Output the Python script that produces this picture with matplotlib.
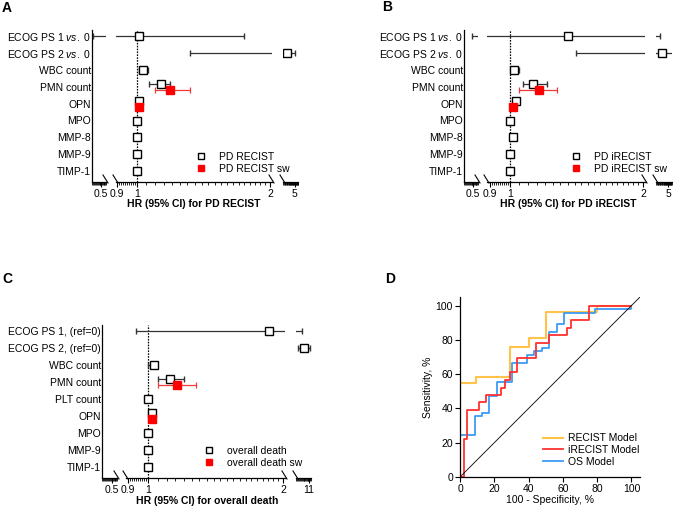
import numpy as np
import matplotlib
matplotlib.use("Agg")
import matplotlib.pyplot as plt
import matplotlib.ticker as mticker
from matplotlib.lines import Line2D

plt.rcParams['font.family'] = ['Liberation Sans', 'DejaVu Sans']
plt.rcParams['mathtext.fontset'] = 'custom'
plt.rcParams['mathtext.rm'] = 'Liberation Sans'
plt.rcParams['mathtext.it'] = 'Liberation Sans:italic'
plt.rcParams['font.size'] = 7.5

# ---------------- data ----------------
rows_a = [r'ECOG PS 1 $\it{vs.}$ 0', r'ECOG PS 2 $\it{vs.}$ 0', 'WBC count', 'PMN count',
          'OPN', 'MPO', 'MMP-8', 'MMP-9', 'TIMP-1']
hr_a = [1.01, 3.6, 1.03, 1.13, 1.01, 1.0, 1.0, 1.0, 1.0]
lo_a = [0.41, 1.32, 1.01, 1.065, 1.0, 0.995, 0.995, 0.995, 0.995]
hi_a = [1.75, 5.0, 1.06, 1.19, 1.02, 1.005, 1.005, 1.005, 1.005]
sw_rows_a = [3, 4]
sw_hr_a = [1.19, 1.01]
sw_lo_a = [1.10, 1.0]
sw_hi_a = [1.32, 1.02]

rows_b = rows_a
hr_b = [1.35, 3.8, 1.02, 1.13, 1.03, 1.0, 1.015, 1.0, 1.0]
lo_b = [0.48, 1.41, 1.01, 1.07, 1.02, 0.995, 1.01, 0.995, 0.995]
hi_b = [3.5, 7.0, 1.05, 1.21, 1.04, 1.005, 1.02, 1.005, 1.005]
sw_rows_b = [3, 4]
sw_hr_b = [1.16, 1.015]
sw_lo_b = [1.05, 1.005]
sw_hi_b = [1.28, 1.025]

rows_c = ['ECOG PS 1, (ref=0)', 'ECOG PS 2, (ref=0)', 'WBC count', 'PMN count',
          'PLT count', 'OPN', 'MPO', 'MMP-9', 'TIMP-1']
hr_c = [1.86, 9.6, 1.03, 1.12, 1.0, 1.02, 1.0, 1.0, 1.0]
lo_c = [0.94, 8.3, 1.0, 1.05, 0.995, 1.01, 0.995, 0.995, 0.995]
hi_c = [9.3, 11.1, 1.045, 1.2, 1.005, 1.03, 1.005, 1.005, 1.005]
sw_rows_c = [3, 5]
sw_hr_c = [1.16, 1.02]
sw_lo_c = [1.05, 1.01]
sw_hi_c = [1.28, 1.03]

# ROC curves (100 - specificity, sensitivity), step corners
recist_x = [0, 0, 9.4, 29.4, 40, 50, 80, 100]
recist_y = [0, 55, 58.5, 76, 81, 96.5, 100, 100]
irecist_x = [0, 2.2, 4.3, 10.8, 15.3, 24, 26.4, 29, 33.3, 44.6, 51.9, 62.2, 64.6, 75.3, 100]
irecist_y = [0, 22, 39, 43.5, 48, 52, 56.5, 61, 69.5, 78.3, 82.6, 87, 91.3, 100, 100]
os_x = [0, 0, 8.8, 12.7, 17.2, 21.5, 30.3, 39.3, 43.2, 48, 52, 56.4, 60.9, 78.9, 100, 100]
os_y = [0, 24.5, 35.5, 37.5, 47, 55.5, 66.7, 71, 73.3, 75.5, 84.5, 89, 95.5, 97.8, 100, 100]

W, H = 673, 507
fig = plt.figure(figsize=(W / 100, H / 100), dpi=100)


def px(x, y):
    return x / W, 1 - y / H


def add_ax(x0, y0, x1, y1):
    return fig.add_axes([x0 / W, 1 - y1 / H, (x1 - x0) / W, (y1 - y0) / H])


def slash(x, y):
    fig.add_artist(Line2D([(x - 3) / W, (x + 2) / W], [1 - (y - 7) / H, 1 - (y + 1) / H],
                          transform=fig.transFigure, color='black', lw=0.8))


def forest(segs, rows, hr, lo, hi, sw_rows, sw_hr, sw_lo, sw_hi,
           ytop, ybot, row0, step, xlabel, xlab_xy, leg_xy, leg_labels):
    n = len(rows)
    hr = np.array(hr); lo = np.array(lo); hi = np.array(hi)
    y_main = np.arange(n, dtype=float)
    y_main[sw_rows] -= 0.15
    sw_y = np.array(sw_rows, dtype=float) + 0.2
    sw_hr = np.array(sw_hr); sw_lo = np.array(sw_lo); sw_hi = np.array(sw_hi)
    for k, (x0, x1, lim, major, majlab, minor) in enumerate(segs):
        ax = add_ax(x0, ytop, x1, ybot)
        ax.set_xscale('log')
        ax.errorbar(sw_hr, sw_y, xerr=[sw_hr - sw_lo, sw_hi - sw_hr], fmt='s', ms=5.2,
                    color='#ff0000', ecolor='#f03a3a', elinewidth=0.9, capsize=2.5,
                    capthick=0.9, zorder=4)
        ax.errorbar(hr, y_main, xerr=[hr - lo, hi - hr], fmt='s', ms=5.2, mfc='white',
                    mec='black', mew=1.0, ecolor='#333333', elinewidth=0.9, capsize=2.5,
                    capthick=0.9, zorder=3)
        if k == 1:
            ax.axvline(1, color='black', ls=(0, (1.3, 1.0)), lw=0.9, zorder=1)
        ax.set_xlim(*lim)
        ax.set_ylim((ybot - row0) / step, (ytop - row0) / step)
        ax.set_xticks(major, labels=majlab)
        ax.set_xticks(minor, minor=True)
        ax.xaxis.set_minor_formatter(mticker.NullFormatter())
        ax.tick_params(axis='x', which='major', length=3.5, width=0.8, pad=1.5, labelsize=7.5)
        ax.tick_params(axis='x', which='minor', length=2.2, width=0.6)
        for s in ['top', 'right']:
            ax.spines[s].set_visible(False)
        ax.spines['bottom'].set_linewidth(0.9)
        ax.patch.set_alpha(0)
        if k == 0:
            ax.set_yticks(range(n), labels=rows)
            ax.tick_params(axis='y', length=0, pad=0.6, labelsize=7.5)
            ax.spines['left'].set_linewidth(0.9)
        else:
            ax.spines['left'].set_visible(False)
            ax.set_yticks([])
        if k > 0:
            slash(x0, ybot)
        if k < len(segs) - 1:
            slash(x1, ybot)
    fig.text(*px(*xlab_xy), xlabel, ha='center', va='center', fontweight='bold', fontsize=7.5)
    h1 = Line2D([], [], marker='s', ls='none', ms=4.3, mfc='white', mec='black', mew=1.0)
    h2 = Line2D([], [], marker='s', ls='none', ms=4.3, color='#ff0000')
    fig.legend([h1, h2], leg_labels, loc='center left', bbox_to_anchor=px(*leg_xy),
               frameon=False, handlelength=1.0, handletextpad=1.2, labelspacing=0.2,
               borderpad=0, borderaxespad=0, fontsize=7.5)


minor1 = np.arange(0.40, 0.56, 0.01)
minor2 = np.concatenate([np.arange(0.9, 1.0, 0.01), np.arange(1.05, 2.0, 0.05)])
minor3 = np.arange(3.0, 5.8, 0.1)
minor3c = np.arange(8.0, 11.5, 0.2)

segs_a = [(92, 106, (0.40, 0.56), [0.5], ['0.5'], minor1),
          (116, 272, (0.896, 2.02), [0.9, 1, 2], ['0.9', '1', '2'], minor2),
          (283, 298, (3.0, 5.3), [5], ['5'], minor3)]
forest(segs_a, rows_a, hr_a, lo_a, hi_a, sw_rows_a, sw_hr_a, sw_lo_a, sw_hi_a,
       30, 182, 36, 16.9, 'HR (95% CI) for PD RECIST', (194, 204), (196, 163),
       ['PD RECIST', 'PD RECIST sw'])

segs_b = [(464, 478, (0.40, 0.56), [0.5], ['0.5'], minor1),
          (487, 645, (0.887, 2.02), [0.9, 1, 2], ['0.9', '1', '2'], minor2),
          (656, 672, (3.0, 5.8), [5], ['5'], minor3)]
forest(segs_b, rows_b, hr_b, lo_b, hi_b, sw_rows_b, sw_hr_b, sw_lo_b, sw_hi_b,
       30, 182, 36, 16.9, 'HR (95% CI) for PD iRECIST', (568, 204), (571, 163),
       ['PD iRECIST', 'PD iRECIST sw'])

segs_c = [(102, 117, (0.40, 0.56), [0.5], ['0.5'], minor1),
          (126, 285, (0.893, 2.02), [0.9, 1, 2], ['0.9', '1', '2'], minor2),
          (296, 311, (8.0, 11.5), [11], ['11'], minor3c)]
forest(segs_c, rows_c, hr_c, lo_c, hi_c, sw_rows_c, sw_hr_c, sw_lo_c, sw_hi_c,
       325, 478, 331, 17.0, 'HR (95% CI) for overall death', (207, 501), (204, 457),
       ['overall death', 'overall death sw'])

# ---------------- ROC panel ----------------
axd = add_ax(460, 297, 640, 477)
l1, = axd.plot(recist_x, recist_y, drawstyle='steps-post', color='#ffc34a', lw=1.5)
l3, = axd.plot(os_x, os_y, drawstyle='steps-post', color='#3d9bf5', lw=1.3)
l2, = axd.plot(irecist_x, irecist_y, drawstyle='steps-post', color='#ff3030', lw=1.3)
axd.axline((0, 0), slope=1, color='black', lw=0.6)
axd.set_xlim(0, 105)
axd.set_ylim(0, 105)
axd.set_xticks(range(0, 101, 20))
axd.set_yticks(range(0, 101, 20))
axd.tick_params(length=3.5, width=0.8, pad=1.5, labelsize=7.5)
for s in ['top', 'right']:
    axd.spines[s].set_visible(False)
for s in ['left', 'bottom']:
    axd.spines[s].set_linewidth(0.9)
axd.set_xlabel('100 - Specificity, %', fontsize=7.5, labelpad=1)
axd.set_ylabel('Sensitivity, %', fontsize=7.5, labelpad=2)
fig.legend([l1, l2, l3], ['RECIST Model', 'iRECIST Model', 'OS Model'], loc='center left',
           bbox_to_anchor=px(543, 450), frameon=False, handlelength=1.9, handletextpad=0.5,
           labelspacing=0.15, borderpad=0, borderaxespad=0, fontsize=7.5)

# panel letters
for lab, xy in [('A', (7, 8)), ('B', (387, 7)), ('C', (7, 279)), ('D', (390, 279))]:
    fig.text(*px(*xy), lab, ha='center', va='center', fontweight='bold', fontsize=10)

fig.savefig('out.png', dpi=100)
